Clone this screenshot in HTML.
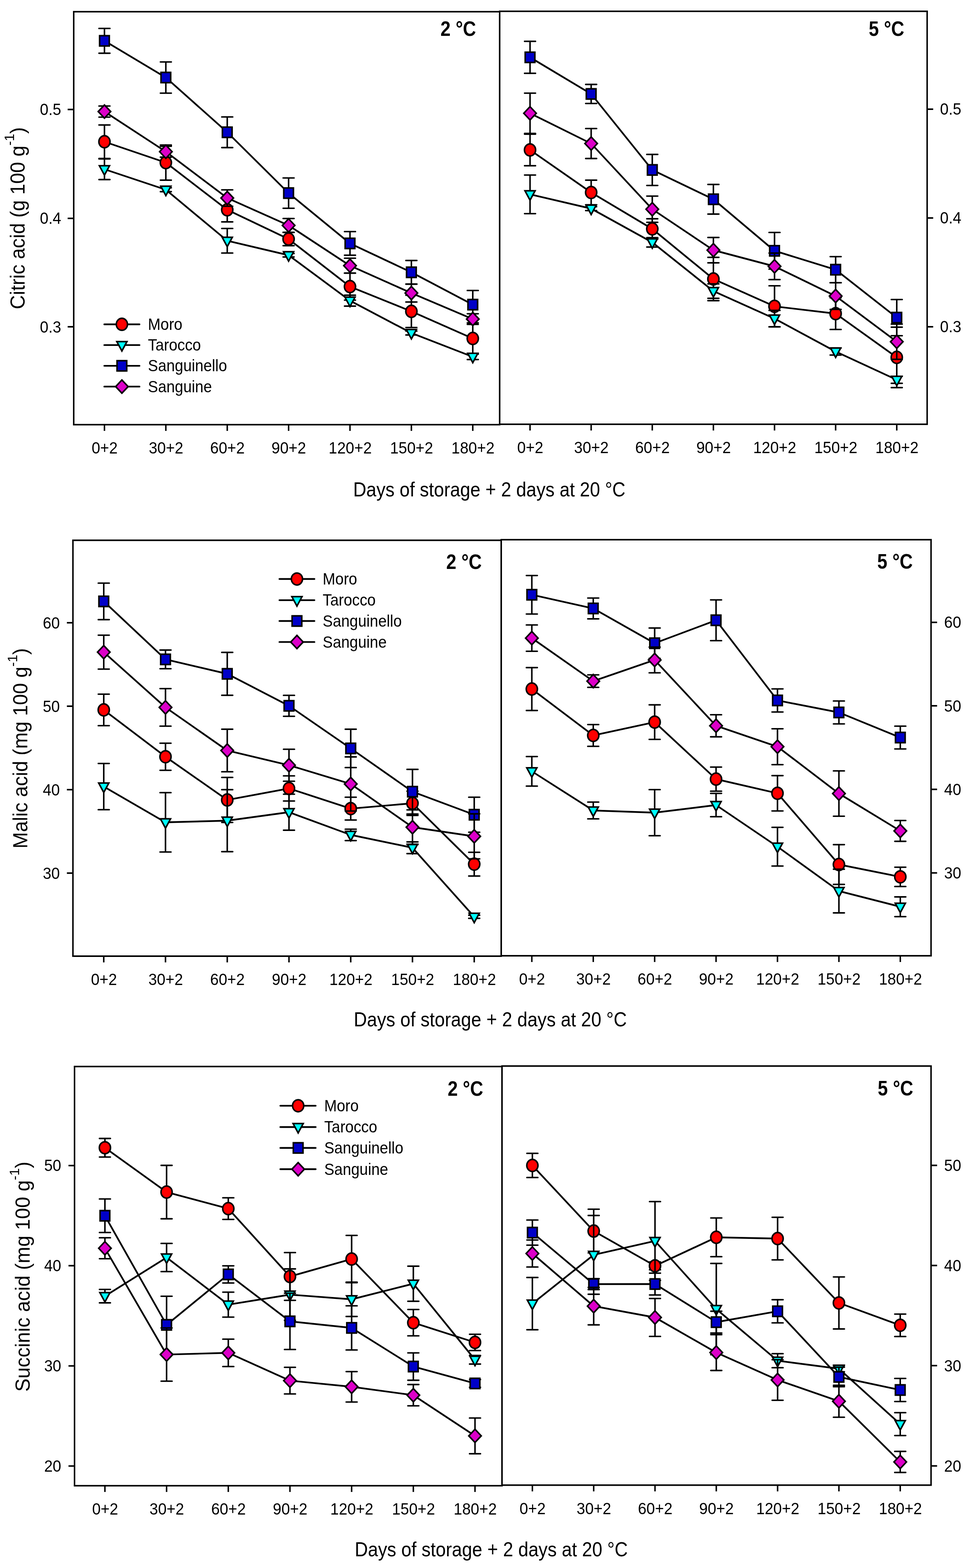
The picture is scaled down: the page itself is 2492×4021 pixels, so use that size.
<!DOCTYPE html>
<html><head><meta charset="utf-8"><title>Organic acids in blood oranges during storage</title>
<style>html,body{margin:0;padding:0;background:#fff;}svg{display:block;}</style>
</head><body>
<svg width="2492" height="4021" viewBox="0 0 2492 4021" style="font-family:&quot;Liberation Sans&quot;, Arial, sans-serif" fill="#000">
<rect width="2492" height="4021" fill="#fff"/>
<g stroke="#000" fill="none">
<path d="M189 30V1089M1281 30V1089" stroke-width="3.8"/>
<path d="M187.1 30H1282.9M187.1 1089H1282.9" stroke-width="4.0"/>
<path d="M267.8 1089V1105M425.2 1089V1105M582.6 1089V1105M739.9 1089V1105M897.3 1089V1105M1054.7 1089V1105M1212.1 1089V1105" stroke-width="3.8"/>
<path d="M189 280.8H173.5M189 559.9H173.5M189 838.1H173.5" stroke-width="4.0"/>
</g>
<g font-size="42.5">
<text transform="translate(268.3 1163) scale(0.915 1)" font-size="43" text-anchor="middle">0+2</text>
<text transform="translate(425.7 1163) scale(0.915 1)" font-size="43" text-anchor="middle">30+2</text>
<text transform="translate(583.1 1163) scale(0.915 1)" font-size="43" text-anchor="middle">60+2</text>
<text transform="translate(740.4 1163) scale(0.915 1)" font-size="43" text-anchor="middle">90+2</text>
<text transform="translate(897.8 1163) scale(0.915 1)" font-size="43" text-anchor="middle">120+2</text>
<text transform="translate(1055.2 1163) scale(0.915 1)" font-size="43" text-anchor="middle">150+2</text>
<text transform="translate(1212.6 1163) scale(0.915 1)" font-size="43" text-anchor="middle">180+2</text>
<text transform="translate(157 295.3) scale(0.915 1)" font-size="43" text-anchor="end">0.5</text>
<text transform="translate(157 574.4) scale(0.915 1)" font-size="43" text-anchor="end">0.4</text>
<text transform="translate(157 852.6) scale(0.915 1)" font-size="43" text-anchor="end">0.3</text>
</g>
<text transform="translate(1220.5 91.5) scale(0.871 1)" font-size="53.5" font-weight="bold" text-anchor="end">2 °C</text>
<path d="M267.8 363.5L425.2 417L582.6 538L739.9 613L897.3 735L1054.7 798.5L1212.1 868" fill="none" stroke="#000" stroke-width="4.4" stroke-linejoin="round"/>
<g stroke="#000" fill="none"><path d="M267.8 320.5V406.5" stroke-width="3.9"/><path d="M253.7 320.5H281.9M253.7 406.5H281.9" stroke-width="3.8" stroke-linecap="round"/><path d="M425.2 372V462" stroke-width="3.9"/><path d="M411.1 372H439.3M411.1 462H439.3" stroke-width="3.8" stroke-linecap="round"/><path d="M582.6 507V569" stroke-width="3.9"/><path d="M568.5 507H596.7M568.5 569H596.7" stroke-width="3.8" stroke-linecap="round"/><path d="M739.9 596V630" stroke-width="3.9"/><path d="M725.8 596H754M725.8 630H754" stroke-width="3.8" stroke-linecap="round"/><path d="M897.3 700.4V769.6" stroke-width="3.9"/><path d="M883.2 700.4H911.4M883.2 769.6H911.4" stroke-width="3.8" stroke-linecap="round"/><path d="M1054.7 757.2V839.8" stroke-width="3.9"/><path d="M1040.6 757.2H1068.8M1040.6 839.8H1068.8" stroke-width="3.8" stroke-linecap="round"/><path d="M1212.1 828V908" stroke-width="3.9"/><path d="M1198 828H1226.2M1198 908H1226.2" stroke-width="3.8" stroke-linecap="round"/></g>
<ellipse cx="267.8" cy="363.5" rx="14.3" ry="15.4" fill="#ff0000" stroke="#000" stroke-width="4.0"/><ellipse cx="425.2" cy="417" rx="14.3" ry="15.4" fill="#ff0000" stroke="#000" stroke-width="4.0"/><ellipse cx="582.6" cy="538" rx="14.3" ry="15.4" fill="#ff0000" stroke="#000" stroke-width="4.0"/><ellipse cx="739.9" cy="613" rx="14.3" ry="15.4" fill="#ff0000" stroke="#000" stroke-width="4.0"/><ellipse cx="897.3" cy="735" rx="14.3" ry="15.4" fill="#ff0000" stroke="#000" stroke-width="4.0"/><ellipse cx="1054.7" cy="798.5" rx="14.3" ry="15.4" fill="#ff0000" stroke="#000" stroke-width="4.0"/><ellipse cx="1212.1" cy="868" rx="14.3" ry="15.4" fill="#ff0000" stroke="#000" stroke-width="4.0"/>
<path d="M267.8 434L425.2 486.5L582.6 617.4L739.9 654.5L897.3 771L1054.7 854L1212.1 915" fill="none" stroke="#000" stroke-width="4.4" stroke-linejoin="round"/>
<g stroke="#000" fill="none"><path d="M267.8 407.5V460.5" stroke-width="3.9"/><path d="M253.7 407.5H281.9M253.7 460.5H281.9" stroke-width="3.8" stroke-linecap="round"/><path d="M425.2 481.5V491.5" stroke-width="3.9"/><path d="M411.1 481.5H439.3M411.1 491.5H439.3" stroke-width="3.8" stroke-linecap="round"/><path d="M582.6 585.9V648.9" stroke-width="3.9"/><path d="M568.5 585.9H596.7M568.5 648.9H596.7" stroke-width="3.8" stroke-linecap="round"/><path d="M739.9 650V659" stroke-width="3.9"/><path d="M725.8 650H754M725.8 659H754" stroke-width="3.8" stroke-linecap="round"/><path d="M897.3 757V785" stroke-width="3.9"/><path d="M883.2 757H911.4M883.2 785H911.4" stroke-width="3.8" stroke-linecap="round"/><path d="M1054.7 849V859" stroke-width="3.9"/><path d="M1040.6 849H1068.8M1040.6 859H1068.8" stroke-width="3.8" stroke-linecap="round"/><path d="M1212.1 908V922" stroke-width="3.9"/><path d="M1198 908H1226.2M1198 922H1226.2" stroke-width="3.8" stroke-linecap="round"/></g>
<polygon points="254.8,425 280.8,425 267.8,449.1" fill="#00ffff" stroke="#000" stroke-width="4.0" stroke-linejoin="miter" stroke-miterlimit="10"/><polygon points="412.2,477.5 438.2,477.5 425.2,501.6" fill="#00ffff" stroke="#000" stroke-width="4.0" stroke-linejoin="miter" stroke-miterlimit="10"/><polygon points="569.6,608.4 595.6,608.4 582.6,632.5" fill="#00ffff" stroke="#000" stroke-width="4.0" stroke-linejoin="miter" stroke-miterlimit="10"/><polygon points="726.9,645.5 752.9,645.5 739.9,669.6" fill="#00ffff" stroke="#000" stroke-width="4.0" stroke-linejoin="miter" stroke-miterlimit="10"/><polygon points="884.3,762 910.3,762 897.3,786.1" fill="#00ffff" stroke="#000" stroke-width="4.0" stroke-linejoin="miter" stroke-miterlimit="10"/><polygon points="1041.7,845 1067.7,845 1054.7,869.1" fill="#00ffff" stroke="#000" stroke-width="4.0" stroke-linejoin="miter" stroke-miterlimit="10"/><polygon points="1199.1,906 1225.1,906 1212.1,930.1" fill="#00ffff" stroke="#000" stroke-width="4.0" stroke-linejoin="miter" stroke-miterlimit="10"/>
<path d="M267.8 104.7L425.2 198.8L582.6 339.2L739.9 495.2L897.3 624.2L1054.7 698.3L1212.1 781.2" fill="none" stroke="#000" stroke-width="4.4" stroke-linejoin="round"/>
<g stroke="#000" fill="none"><path d="M267.8 72.9V136.5" stroke-width="3.9"/><path d="M253.7 72.9H281.9M253.7 136.5H281.9" stroke-width="3.8" stroke-linecap="round"/><path d="M425.2 158.8V238.8" stroke-width="3.9"/><path d="M411.1 158.8H439.3M411.1 238.8H439.3" stroke-width="3.8" stroke-linecap="round"/><path d="M582.6 299.9V378.5" stroke-width="3.9"/><path d="M568.5 299.9H596.7M568.5 378.5H596.7" stroke-width="3.8" stroke-linecap="round"/><path d="M739.9 456.3V534.1" stroke-width="3.9"/><path d="M725.8 456.3H754M725.8 534.1H754" stroke-width="3.8" stroke-linecap="round"/><path d="M897.3 593.9V654.5" stroke-width="3.9"/><path d="M883.2 593.9H911.4M883.2 654.5H911.4" stroke-width="3.8" stroke-linecap="round"/><path d="M1054.7 668V728.6" stroke-width="3.9"/><path d="M1040.6 668H1068.8M1040.6 728.6H1068.8" stroke-width="3.8" stroke-linecap="round"/><path d="M1212.1 744.9V817.5" stroke-width="3.9"/><path d="M1198 744.9H1226.2M1198 817.5H1226.2" stroke-width="3.8" stroke-linecap="round"/></g>
<rect x="255.4" y="91.5" width="24.8" height="26.4" fill="#0000c8" stroke="#000" stroke-width="4.0" stroke-linejoin="miter"/><rect x="412.8" y="185.6" width="24.8" height="26.4" fill="#0000c8" stroke="#000" stroke-width="4.0" stroke-linejoin="miter"/><rect x="570.2" y="326" width="24.8" height="26.4" fill="#0000c8" stroke="#000" stroke-width="4.0" stroke-linejoin="miter"/><rect x="727.5" y="482" width="24.8" height="26.4" fill="#0000c8" stroke="#000" stroke-width="4.0" stroke-linejoin="miter"/><rect x="884.9" y="611" width="24.8" height="26.4" fill="#0000c8" stroke="#000" stroke-width="4.0" stroke-linejoin="miter"/><rect x="1042.3" y="685.1" width="24.8" height="26.4" fill="#0000c8" stroke="#000" stroke-width="4.0" stroke-linejoin="miter"/><rect x="1199.7" y="768" width="24.8" height="26.4" fill="#0000c8" stroke="#000" stroke-width="4.0" stroke-linejoin="miter"/>
<path d="M267.8 286.1L425.2 389L582.6 507.8L739.9 578L897.3 681.3L1054.7 751.5L1212.1 818.2" fill="none" stroke="#000" stroke-width="4.4" stroke-linejoin="round"/>
<g stroke="#000" fill="none"><path d="M267.8 271.9V300.3" stroke-width="3.9"/><path d="M253.7 271.9H281.9M253.7 300.3H281.9" stroke-width="3.8" stroke-linecap="round"/><path d="M425.2 375V403" stroke-width="3.9"/><path d="M411.1 375H439.3M411.1 403H439.3" stroke-width="3.8" stroke-linecap="round"/><path d="M582.6 486.8V528.8" stroke-width="3.9"/><path d="M568.5 486.8H596.7M568.5 528.8H596.7" stroke-width="3.8" stroke-linecap="round"/><path d="M739.9 560.3V595.7" stroke-width="3.9"/><path d="M725.8 560.3H754M725.8 595.7H754" stroke-width="3.8" stroke-linecap="round"/><path d="M897.3 662.2V700.4" stroke-width="3.9"/><path d="M883.2 662.2H911.4M883.2 700.4H911.4" stroke-width="3.8" stroke-linecap="round"/><path d="M1054.7 728.5V774.5" stroke-width="3.9"/><path d="M1040.6 728.5H1068.8M1040.6 774.5H1068.8" stroke-width="3.8" stroke-linecap="round"/><path d="M1212.1 804.6V831.8" stroke-width="3.9"/><path d="M1198 804.6H1226.2M1198 831.8H1226.2" stroke-width="3.8" stroke-linecap="round"/></g>
<polygon points="267.8,269.1 283.8,286.1 267.8,303.1 251.8,286.1" fill="#dc00c8" stroke="#000" stroke-width="4.0" stroke-linejoin="miter"/><polygon points="425.2,372 441.2,389 425.2,406 409.2,389" fill="#dc00c8" stroke="#000" stroke-width="4.0" stroke-linejoin="miter"/><polygon points="582.6,490.8 598.6,507.8 582.6,524.8 566.6,507.8" fill="#dc00c8" stroke="#000" stroke-width="4.0" stroke-linejoin="miter"/><polygon points="739.9,561 755.9,578 739.9,595 723.9,578" fill="#dc00c8" stroke="#000" stroke-width="4.0" stroke-linejoin="miter"/><polygon points="897.3,664.3 913.3,681.3 897.3,698.3 881.3,681.3" fill="#dc00c8" stroke="#000" stroke-width="4.0" stroke-linejoin="miter"/><polygon points="1054.7,734.5 1070.7,751.5 1054.7,768.5 1038.7,751.5" fill="#dc00c8" stroke="#000" stroke-width="4.0" stroke-linejoin="miter"/><polygon points="1212.1,801.2 1228.1,818.2 1212.1,835.2 1196.1,818.2" fill="#dc00c8" stroke="#000" stroke-width="4.0" stroke-linejoin="miter"/>
<path d="M267.4 831.7H357.6" stroke="#000" stroke-width="4.4" stroke-linecap="round"/>
<ellipse cx="312.5" cy="831.7" rx="14.3" ry="15.4" fill="#ff0000" stroke="#000" stroke-width="4.0"/>
<text transform="translate(379.3 845.9) scale(0.896 1)" font-size="43.3" text-anchor="start">Moro</text>
<path d="M267.4 884.9H357.6" stroke="#000" stroke-width="4.4" stroke-linecap="round"/>
<polygon points="299.5,875.9 325.5,875.9 312.5,900" fill="#00ffff" stroke="#000" stroke-width="4.0" stroke-linejoin="miter" stroke-miterlimit="10"/>
<text transform="translate(379.3 899.1) scale(0.896 1)" font-size="43.3" text-anchor="start">Tarocco</text>
<path d="M267.4 938.1H357.6" stroke="#000" stroke-width="4.4" stroke-linecap="round"/>
<rect x="300.1" y="924.9" width="24.8" height="26.4" fill="#0000c8" stroke="#000" stroke-width="4.0" stroke-linejoin="miter"/>
<text transform="translate(379.3 952.3) scale(0.896 1)" font-size="43.3" text-anchor="start">Sanguinello</text>
<path d="M267.4 991.4H357.6" stroke="#000" stroke-width="4.4" stroke-linecap="round"/>
<polygon points="312.5,974.4 328.5,991.4 312.5,1008.4 296.5,991.4" fill="#dc00c8" stroke="#000" stroke-width="4.0" stroke-linejoin="miter"/>
<text transform="translate(379.3 1005.6) scale(0.896 1)" font-size="43.3" text-anchor="start">Sanguine</text>
<g stroke="#000" fill="none">
<path d="M1281 29V1088M2377 29V1088" stroke-width="3.8"/>
<path d="M1279.1 29H2378.9M1279.1 1088H2378.9" stroke-width="4.0"/>
<path d="M1358.9 1088V1104M1515.6 1088V1104M1672.3 1088V1104M1829 1088V1104M1985.7 1088V1104M2142.4 1088V1104M2299.1 1088V1104" stroke-width="3.8"/>
<path d="M2377 279.9H2392.5M2377 558.9H2392.5M2377 837.9H2392.5" stroke-width="4.0"/>
</g>
<g font-size="42.5">
<text transform="translate(1359.4 1162) scale(0.915 1)" font-size="43" text-anchor="middle">0+2</text>
<text transform="translate(1516.1 1162) scale(0.915 1)" font-size="43" text-anchor="middle">30+2</text>
<text transform="translate(1672.8 1162) scale(0.915 1)" font-size="43" text-anchor="middle">60+2</text>
<text transform="translate(1829.5 1162) scale(0.915 1)" font-size="43" text-anchor="middle">90+2</text>
<text transform="translate(1986.2 1162) scale(0.915 1)" font-size="43" text-anchor="middle">120+2</text>
<text transform="translate(2142.9 1162) scale(0.915 1)" font-size="43" text-anchor="middle">150+2</text>
<text transform="translate(2299.6 1162) scale(0.915 1)" font-size="43" text-anchor="middle">180+2</text>
<text transform="translate(2410 294.4) scale(0.915 1)" font-size="43" text-anchor="start">0.5</text>
<text transform="translate(2410 573.4) scale(0.915 1)" font-size="43" text-anchor="start">0.4</text>
<text transform="translate(2410 852.4) scale(0.915 1)" font-size="43" text-anchor="start">0.3</text>
</g>
<text transform="translate(2318.5 91.7) scale(0.871 1)" font-size="53.5" font-weight="bold" text-anchor="end">5 °C</text>
<path d="M1358.9 384.5L1515.6 493.6L1672.3 587L1829 715.5L1985.7 785.6L2142.4 804.3L2299.1 916.5" fill="none" stroke="#000" stroke-width="4.4" stroke-linejoin="round"/>
<g stroke="#000" fill="none"><path d="M1358.9 344V425" stroke-width="3.9"/><path d="M1344.8 344H1373M1344.8 425H1373" stroke-width="3.8" stroke-linecap="round"/><path d="M1515.6 462V525.2" stroke-width="3.9"/><path d="M1501.5 462H1529.7M1501.5 525.2H1529.7" stroke-width="3.8" stroke-linecap="round"/><path d="M1672.3 561V613" stroke-width="3.9"/><path d="M1658.2 561H1686.4M1658.2 613H1686.4" stroke-width="3.8" stroke-linecap="round"/><path d="M1829 660V771" stroke-width="3.9"/><path d="M1814.9 660H1843.1M1814.9 771H1843.1" stroke-width="3.8" stroke-linecap="round"/><path d="M1985.7 732.9V838.3" stroke-width="3.9"/><path d="M1971.6 732.9H1999.8M1971.6 838.3H1999.8" stroke-width="3.8" stroke-linecap="round"/><path d="M2142.4 763.7V844.9" stroke-width="3.9"/><path d="M2128.3 763.7H2156.5M2128.3 844.9H2156.5" stroke-width="3.8" stroke-linecap="round"/><path d="M2299.1 839V994" stroke-width="3.9"/><path d="M2285 839H2313.2M2285 994H2313.2" stroke-width="3.8" stroke-linecap="round"/></g>
<ellipse cx="1358.9" cy="384.5" rx="14.3" ry="15.4" fill="#ff0000" stroke="#000" stroke-width="4.0"/><ellipse cx="1515.6" cy="493.6" rx="14.3" ry="15.4" fill="#ff0000" stroke="#000" stroke-width="4.0"/><ellipse cx="1672.3" cy="587" rx="14.3" ry="15.4" fill="#ff0000" stroke="#000" stroke-width="4.0"/><ellipse cx="1829" cy="715.5" rx="14.3" ry="15.4" fill="#ff0000" stroke="#000" stroke-width="4.0"/><ellipse cx="1985.7" cy="785.6" rx="14.3" ry="15.4" fill="#ff0000" stroke="#000" stroke-width="4.0"/><ellipse cx="2142.4" cy="804.3" rx="14.3" ry="15.4" fill="#ff0000" stroke="#000" stroke-width="4.0"/><ellipse cx="2299.1" cy="916.5" rx="14.3" ry="15.4" fill="#ff0000" stroke="#000" stroke-width="4.0"/>
<path d="M1358.9 498.3L1515.6 535L1672.3 621.5L1829 746.5L1985.7 817L2142.4 901.5L2299.1 974" fill="none" stroke="#000" stroke-width="4.4" stroke-linejoin="round"/>
<g stroke="#000" fill="none"><path d="M1358.9 448.8V547.8" stroke-width="3.9"/><path d="M1344.8 448.8H1373M1344.8 547.8H1373" stroke-width="3.8" stroke-linecap="round"/><path d="M1515.6 530V540" stroke-width="3.9"/><path d="M1501.5 530H1529.7M1501.5 540H1529.7" stroke-width="3.8" stroke-linecap="round"/><path d="M1672.3 609.5V633.5" stroke-width="3.9"/><path d="M1658.2 609.5H1686.4M1658.2 633.5H1686.4" stroke-width="3.8" stroke-linecap="round"/><path d="M1829 728V765" stroke-width="3.9"/><path d="M1814.9 728H1843.1M1814.9 765H1843.1" stroke-width="3.8" stroke-linecap="round"/><path d="M1985.7 796V838" stroke-width="3.9"/><path d="M1971.6 796H1999.8M1971.6 838H1999.8" stroke-width="3.8" stroke-linecap="round"/><path d="M2142.4 892.5V910.5" stroke-width="3.9"/><path d="M2128.3 892.5H2156.5M2128.3 910.5H2156.5" stroke-width="3.8" stroke-linecap="round"/><path d="M2299.1 965V983" stroke-width="3.9"/><path d="M2285 965H2313.2M2285 983H2313.2" stroke-width="3.8" stroke-linecap="round"/></g>
<polygon points="1345.9,489.3 1371.9,489.3 1358.9,513.4" fill="#00ffff" stroke="#000" stroke-width="4.0" stroke-linejoin="miter" stroke-miterlimit="10"/><polygon points="1502.6,526 1528.6,526 1515.6,550.1" fill="#00ffff" stroke="#000" stroke-width="4.0" stroke-linejoin="miter" stroke-miterlimit="10"/><polygon points="1659.3,612.5 1685.3,612.5 1672.3,636.6" fill="#00ffff" stroke="#000" stroke-width="4.0" stroke-linejoin="miter" stroke-miterlimit="10"/><polygon points="1816,737.5 1842,737.5 1829,761.6" fill="#00ffff" stroke="#000" stroke-width="4.0" stroke-linejoin="miter" stroke-miterlimit="10"/><polygon points="1972.7,808 1998.7,808 1985.7,832.1" fill="#00ffff" stroke="#000" stroke-width="4.0" stroke-linejoin="miter" stroke-miterlimit="10"/><polygon points="2129.4,892.5 2155.4,892.5 2142.4,916.6" fill="#00ffff" stroke="#000" stroke-width="4.0" stroke-linejoin="miter" stroke-miterlimit="10"/><polygon points="2286.1,965 2312.1,965 2299.1,989.1" fill="#00ffff" stroke="#000" stroke-width="4.0" stroke-linejoin="miter" stroke-miterlimit="10"/>
<path d="M1358.9 147L1515.6 240.9L1672.3 435.8L1829 511L1985.7 643.2L2142.4 691.6L2299.1 814.5" fill="none" stroke="#000" stroke-width="4.4" stroke-linejoin="round"/>
<g stroke="#000" fill="none"><path d="M1358.9 106V188" stroke-width="3.9"/><path d="M1344.8 106H1373M1344.8 188H1373" stroke-width="3.8" stroke-linecap="round"/><path d="M1515.6 216.5V265.3" stroke-width="3.9"/><path d="M1501.5 216.5H1529.7M1501.5 265.3H1529.7" stroke-width="3.8" stroke-linecap="round"/><path d="M1672.3 396V475.6" stroke-width="3.9"/><path d="M1658.2 396H1686.4M1658.2 475.6H1686.4" stroke-width="3.8" stroke-linecap="round"/><path d="M1829 473V549" stroke-width="3.9"/><path d="M1814.9 473H1843.1M1814.9 549H1843.1" stroke-width="3.8" stroke-linecap="round"/><path d="M1985.7 596.2V690.2" stroke-width="3.9"/><path d="M1971.6 596.2H1999.8M1971.6 690.2H1999.8" stroke-width="3.8" stroke-linecap="round"/><path d="M2142.4 658.1V725.1" stroke-width="3.9"/><path d="M2128.3 658.1H2156.5M2128.3 725.1H2156.5" stroke-width="3.8" stroke-linecap="round"/><path d="M2299.1 768.1V860.9" stroke-width="3.9"/><path d="M2285 768.1H2313.2M2285 860.9H2313.2" stroke-width="3.8" stroke-linecap="round"/></g>
<rect x="1346.5" y="133.8" width="24.8" height="26.4" fill="#0000c8" stroke="#000" stroke-width="4.0" stroke-linejoin="miter"/><rect x="1503.2" y="227.7" width="24.8" height="26.4" fill="#0000c8" stroke="#000" stroke-width="4.0" stroke-linejoin="miter"/><rect x="1659.9" y="422.6" width="24.8" height="26.4" fill="#0000c8" stroke="#000" stroke-width="4.0" stroke-linejoin="miter"/><rect x="1816.6" y="497.8" width="24.8" height="26.4" fill="#0000c8" stroke="#000" stroke-width="4.0" stroke-linejoin="miter"/><rect x="1973.3" y="630" width="24.8" height="26.4" fill="#0000c8" stroke="#000" stroke-width="4.0" stroke-linejoin="miter"/><rect x="2130" y="678.4" width="24.8" height="26.4" fill="#0000c8" stroke="#000" stroke-width="4.0" stroke-linejoin="miter"/><rect x="2286.7" y="801.3" width="24.8" height="26.4" fill="#0000c8" stroke="#000" stroke-width="4.0" stroke-linejoin="miter"/>
<path d="M1358.9 290.5L1515.6 368.1L1672.3 536.5L1829 641.5L1985.7 683L2142.4 759.2L2299.1 876.3" fill="none" stroke="#000" stroke-width="4.4" stroke-linejoin="round"/>
<g stroke="#000" fill="none"><path d="M1358.9 238.8V342.2" stroke-width="3.9"/><path d="M1344.8 238.8H1373M1344.8 342.2H1373" stroke-width="3.8" stroke-linecap="round"/><path d="M1515.6 329.7V406.5" stroke-width="3.9"/><path d="M1501.5 329.7H1529.7M1501.5 406.5H1529.7" stroke-width="3.8" stroke-linecap="round"/><path d="M1672.3 502.8V570.2" stroke-width="3.9"/><path d="M1658.2 502.8H1686.4M1658.2 570.2H1686.4" stroke-width="3.8" stroke-linecap="round"/><path d="M1829 609V674" stroke-width="3.9"/><path d="M1814.9 609H1843.1M1814.9 674H1843.1" stroke-width="3.8" stroke-linecap="round"/><path d="M1985.7 649V717" stroke-width="3.9"/><path d="M1971.6 649H1999.8M1971.6 717H1999.8" stroke-width="3.8" stroke-linecap="round"/><path d="M2142.4 725V793.4" stroke-width="3.9"/><path d="M2128.3 725H2156.5M2128.3 793.4H2156.5" stroke-width="3.8" stroke-linecap="round"/><path d="M2299.1 831.1V921.5" stroke-width="3.9"/><path d="M2285 831.1H2313.2M2285 921.5H2313.2" stroke-width="3.8" stroke-linecap="round"/></g>
<polygon points="1358.9,273.5 1374.9,290.5 1358.9,307.5 1342.9,290.5" fill="#dc00c8" stroke="#000" stroke-width="4.0" stroke-linejoin="miter"/><polygon points="1515.6,351.1 1531.6,368.1 1515.6,385.1 1499.6,368.1" fill="#dc00c8" stroke="#000" stroke-width="4.0" stroke-linejoin="miter"/><polygon points="1672.3,519.5 1688.3,536.5 1672.3,553.5 1656.3,536.5" fill="#dc00c8" stroke="#000" stroke-width="4.0" stroke-linejoin="miter"/><polygon points="1829,624.5 1845,641.5 1829,658.5 1813,641.5" fill="#dc00c8" stroke="#000" stroke-width="4.0" stroke-linejoin="miter"/><polygon points="1985.7,666 2001.7,683 1985.7,700 1969.7,683" fill="#dc00c8" stroke="#000" stroke-width="4.0" stroke-linejoin="miter"/><polygon points="2142.4,742.2 2158.4,759.2 2142.4,776.2 2126.4,759.2" fill="#dc00c8" stroke="#000" stroke-width="4.0" stroke-linejoin="miter"/><polygon points="2299.1,859.3 2315.1,876.3 2299.1,893.3 2283.1,876.3" fill="#dc00c8" stroke="#000" stroke-width="4.0" stroke-linejoin="miter"/>
<g stroke="#000" fill="none">
<path d="M187 1385.5V2452M1285 1385.5V2452" stroke-width="3.8"/>
<path d="M185.1 1385.5H1286.9M185.1 2452H1286.9" stroke-width="4.0"/>
<path d="M266 2452V2468M424.3 2452V2468M582.6 2452V2468M740.9 2452V2468M899.2 2452V2468M1057.5 2452V2468M1215.8 2452V2468" stroke-width="3.8"/>
<path d="M187 1597H171.5M187 1811H171.5M187 2025H171.5M187 2239H171.5" stroke-width="4.0"/>
</g>
<g font-size="42.5">
<text transform="translate(266.5 2526) scale(0.915 1)" font-size="43" text-anchor="middle">0+2</text>
<text transform="translate(424.8 2526) scale(0.915 1)" font-size="43" text-anchor="middle">30+2</text>
<text transform="translate(583.1 2526) scale(0.915 1)" font-size="43" text-anchor="middle">60+2</text>
<text transform="translate(741.4 2526) scale(0.915 1)" font-size="43" text-anchor="middle">90+2</text>
<text transform="translate(899.7 2526) scale(0.915 1)" font-size="43" text-anchor="middle">120+2</text>
<text transform="translate(1058 2526) scale(0.915 1)" font-size="43" text-anchor="middle">150+2</text>
<text transform="translate(1216.3 2526) scale(0.915 1)" font-size="43" text-anchor="middle">180+2</text>
<text transform="translate(153.4 1611.5) scale(0.915 1)" font-size="43" text-anchor="end">60</text>
<text transform="translate(153.4 1825.5) scale(0.915 1)" font-size="43" text-anchor="end">50</text>
<text transform="translate(153.4 2039.5) scale(0.915 1)" font-size="43" text-anchor="end">40</text>
<text transform="translate(153.4 2253.5) scale(0.915 1)" font-size="43" text-anchor="end">30</text>
</g>
<text transform="translate(1235.2 1459.3) scale(0.871 1)" font-size="53.5" font-weight="bold" text-anchor="end">2 °C</text>
<path d="M266 1820.5L424.3 1940.6L582.6 2051.4L740.9 2021.9L899.2 2073.6L1057.5 2060L1215.8 2216.1" fill="none" stroke="#000" stroke-width="4.4" stroke-linejoin="round"/>
<g stroke="#000" fill="none"><path d="M266 1780.1V1860.9" stroke-width="3.9"/><path d="M251.9 1780.1H280.1M251.9 1860.9H280.1" stroke-width="3.8" stroke-linecap="round"/><path d="M424.3 1905.9V1975.3" stroke-width="3.9"/><path d="M410.2 1905.9H438.4M410.2 1975.3H438.4" stroke-width="3.8" stroke-linecap="round"/><path d="M582.6 1993.7V2109.1" stroke-width="3.9"/><path d="M568.5 1993.7H596.7M568.5 2109.1H596.7" stroke-width="3.8" stroke-linecap="round"/><path d="M740.9 1989.7V2054.1" stroke-width="3.9"/><path d="M726.8 1989.7H755M726.8 2054.1H755" stroke-width="3.8" stroke-linecap="round"/><path d="M899.2 2044.4V2102.8" stroke-width="3.9"/><path d="M885.1 2044.4H913.3M885.1 2102.8H913.3" stroke-width="3.8" stroke-linecap="round"/><path d="M1057.5 2029V2091" stroke-width="3.9"/><path d="M1043.4 2029H1071.6M1043.4 2091H1071.6" stroke-width="3.8" stroke-linecap="round"/><path d="M1215.8 2185.7V2246.5" stroke-width="3.9"/><path d="M1201.7 2185.7H1229.9M1201.7 2246.5H1229.9" stroke-width="3.8" stroke-linecap="round"/></g>
<ellipse cx="266" cy="1820.5" rx="14.3" ry="15.4" fill="#ff0000" stroke="#000" stroke-width="4.0"/><ellipse cx="424.3" cy="1940.6" rx="14.3" ry="15.4" fill="#ff0000" stroke="#000" stroke-width="4.0"/><ellipse cx="582.6" cy="2051.4" rx="14.3" ry="15.4" fill="#ff0000" stroke="#000" stroke-width="4.0"/><ellipse cx="740.9" cy="2021.9" rx="14.3" ry="15.4" fill="#ff0000" stroke="#000" stroke-width="4.0"/><ellipse cx="899.2" cy="2073.6" rx="14.3" ry="15.4" fill="#ff0000" stroke="#000" stroke-width="4.0"/><ellipse cx="1057.5" cy="2060" rx="14.3" ry="15.4" fill="#ff0000" stroke="#000" stroke-width="4.0"/><ellipse cx="1215.8" cy="2216.1" rx="14.3" ry="15.4" fill="#ff0000" stroke="#000" stroke-width="4.0"/>
<path d="M266 2017.1L424.3 2108.8L582.6 2104.5L740.9 2082.8L899.2 2141L1057.5 2174L1215.8 2351" fill="none" stroke="#000" stroke-width="4.4" stroke-linejoin="round"/>
<g stroke="#000" fill="none"><path d="M266 1957.8V2076.4" stroke-width="3.9"/><path d="M251.9 1957.8H280.1M251.9 2076.4H280.1" stroke-width="3.8" stroke-linecap="round"/><path d="M424.3 2032.7V2184.9" stroke-width="3.9"/><path d="M410.2 2032.7H438.4M410.2 2184.9H438.4" stroke-width="3.8" stroke-linecap="round"/><path d="M582.6 2025V2184" stroke-width="3.9"/><path d="M568.5 2025H596.7M568.5 2184H596.7" stroke-width="3.8" stroke-linecap="round"/><path d="M740.9 2036.6V2129" stroke-width="3.9"/><path d="M726.8 2036.6H755M726.8 2129H755" stroke-width="3.8" stroke-linecap="round"/><path d="M899.2 2126.4V2155.6" stroke-width="3.9"/><path d="M885.1 2126.4H913.3M885.1 2155.6H913.3" stroke-width="3.8" stroke-linecap="round"/><path d="M1057.5 2159V2189" stroke-width="3.9"/><path d="M1043.4 2159H1071.6M1043.4 2189H1071.6" stroke-width="3.8" stroke-linecap="round"/><path d="M1215.8 2347V2355" stroke-width="3.9"/><path d="M1201.7 2347H1229.9M1201.7 2355H1229.9" stroke-width="3.8" stroke-linecap="round"/></g>
<polygon points="253,2008.1 279,2008.1 266,2032.2" fill="#00ffff" stroke="#000" stroke-width="4.0" stroke-linejoin="miter" stroke-miterlimit="10"/><polygon points="411.3,2099.8 437.3,2099.8 424.3,2123.9" fill="#00ffff" stroke="#000" stroke-width="4.0" stroke-linejoin="miter" stroke-miterlimit="10"/><polygon points="569.6,2095.5 595.6,2095.5 582.6,2119.6" fill="#00ffff" stroke="#000" stroke-width="4.0" stroke-linejoin="miter" stroke-miterlimit="10"/><polygon points="727.9,2073.8 753.9,2073.8 740.9,2097.9" fill="#00ffff" stroke="#000" stroke-width="4.0" stroke-linejoin="miter" stroke-miterlimit="10"/><polygon points="886.2,2132 912.2,2132 899.2,2156.1" fill="#00ffff" stroke="#000" stroke-width="4.0" stroke-linejoin="miter" stroke-miterlimit="10"/><polygon points="1044.5,2165 1070.5,2165 1057.5,2189.1" fill="#00ffff" stroke="#000" stroke-width="4.0" stroke-linejoin="miter" stroke-miterlimit="10"/><polygon points="1202.8,2342 1228.8,2342 1215.8,2366.1" fill="#00ffff" stroke="#000" stroke-width="4.0" stroke-linejoin="miter" stroke-miterlimit="10"/>
<path d="M266 1542.2L424.3 1690.9L582.6 1728L740.9 1810L899.2 1919.2L1057.5 2030.2L1215.8 2089.3" fill="none" stroke="#000" stroke-width="4.4" stroke-linejoin="round"/>
<g stroke="#000" fill="none"><path d="M266 1495.4V1589" stroke-width="3.9"/><path d="M251.9 1495.4H280.1M251.9 1589H280.1" stroke-width="3.8" stroke-linecap="round"/><path d="M424.3 1667V1714.8" stroke-width="3.9"/><path d="M410.2 1667H438.4M410.2 1714.8H438.4" stroke-width="3.8" stroke-linecap="round"/><path d="M582.6 1673V1783" stroke-width="3.9"/><path d="M568.5 1673H596.7M568.5 1783H596.7" stroke-width="3.8" stroke-linecap="round"/><path d="M740.9 1783.2V1836.8" stroke-width="3.9"/><path d="M726.8 1783.2H755M726.8 1836.8H755" stroke-width="3.8" stroke-linecap="round"/><path d="M899.2 1870V1968.4" stroke-width="3.9"/><path d="M885.1 1870H913.3M885.1 1968.4H913.3" stroke-width="3.8" stroke-linecap="round"/><path d="M1057.5 1973V2087.4" stroke-width="3.9"/><path d="M1043.4 1973H1071.6M1043.4 2087.4H1071.6" stroke-width="3.8" stroke-linecap="round"/><path d="M1215.8 2044.4V2134.2" stroke-width="3.9"/><path d="M1201.7 2044.4H1229.9M1201.7 2134.2H1229.9" stroke-width="3.8" stroke-linecap="round"/></g>
<rect x="253.6" y="1529" width="24.8" height="26.4" fill="#0000c8" stroke="#000" stroke-width="4.0" stroke-linejoin="miter"/><rect x="411.9" y="1677.7" width="24.8" height="26.4" fill="#0000c8" stroke="#000" stroke-width="4.0" stroke-linejoin="miter"/><rect x="570.2" y="1714.8" width="24.8" height="26.4" fill="#0000c8" stroke="#000" stroke-width="4.0" stroke-linejoin="miter"/><rect x="728.5" y="1796.8" width="24.8" height="26.4" fill="#0000c8" stroke="#000" stroke-width="4.0" stroke-linejoin="miter"/><rect x="886.8" y="1906" width="24.8" height="26.4" fill="#0000c8" stroke="#000" stroke-width="4.0" stroke-linejoin="miter"/><rect x="1045.1" y="2017" width="24.8" height="26.4" fill="#0000c8" stroke="#000" stroke-width="4.0" stroke-linejoin="miter"/><rect x="1203.4" y="2076.1" width="24.8" height="26.4" fill="#0000c8" stroke="#000" stroke-width="4.0" stroke-linejoin="miter"/>
<path d="M266 1672.3L424.3 1814L582.6 1924.6L740.9 1962.4L899.2 2010.4L1057.5 2121.3L1215.8 2144.7" fill="none" stroke="#000" stroke-width="4.4" stroke-linejoin="round"/>
<g stroke="#000" fill="none"><path d="M266 1628.8V1715.8" stroke-width="3.9"/><path d="M251.9 1628.8H280.1M251.9 1715.8H280.1" stroke-width="3.8" stroke-linecap="round"/><path d="M424.3 1765.8V1862.2" stroke-width="3.9"/><path d="M410.2 1765.8H438.4M410.2 1862.2H438.4" stroke-width="3.8" stroke-linecap="round"/><path d="M582.6 1870V1979.2" stroke-width="3.9"/><path d="M568.5 1870H596.7M568.5 1979.2H596.7" stroke-width="3.8" stroke-linecap="round"/><path d="M740.9 1921.4V2003.4" stroke-width="3.9"/><path d="M726.8 1921.4H755M726.8 2003.4H755" stroke-width="3.8" stroke-linecap="round"/><path d="M899.2 1941V2079.8" stroke-width="3.9"/><path d="M885.1 1941H913.3M885.1 2079.8H913.3" stroke-width="3.8" stroke-linecap="round"/><path d="M1057.5 2076.8V2165.8" stroke-width="3.9"/><path d="M1043.4 2076.8H1071.6M1043.4 2165.8H1071.6" stroke-width="3.8" stroke-linecap="round"/><path d="M1215.8 2087V2202.4" stroke-width="3.9"/><path d="M1201.7 2087H1229.9M1201.7 2202.4H1229.9" stroke-width="3.8" stroke-linecap="round"/></g>
<polygon points="266,1655.3 282,1672.3 266,1689.3 250,1672.3" fill="#dc00c8" stroke="#000" stroke-width="4.0" stroke-linejoin="miter"/><polygon points="424.3,1797 440.3,1814 424.3,1831 408.3,1814" fill="#dc00c8" stroke="#000" stroke-width="4.0" stroke-linejoin="miter"/><polygon points="582.6,1907.6 598.6,1924.6 582.6,1941.6 566.6,1924.6" fill="#dc00c8" stroke="#000" stroke-width="4.0" stroke-linejoin="miter"/><polygon points="740.9,1945.4 756.9,1962.4 740.9,1979.4 724.9,1962.4" fill="#dc00c8" stroke="#000" stroke-width="4.0" stroke-linejoin="miter"/><polygon points="899.2,1993.4 915.2,2010.4 899.2,2027.4 883.2,2010.4" fill="#dc00c8" stroke="#000" stroke-width="4.0" stroke-linejoin="miter"/><polygon points="1057.5,2104.3 1073.5,2121.3 1057.5,2138.3 1041.5,2121.3" fill="#dc00c8" stroke="#000" stroke-width="4.0" stroke-linejoin="miter"/><polygon points="1215.8,2127.7 1231.8,2144.7 1215.8,2161.7 1199.8,2144.7" fill="#dc00c8" stroke="#000" stroke-width="4.0" stroke-linejoin="miter"/>
<path d="M716.4 1484.8H806.1" stroke="#000" stroke-width="4.4" stroke-linecap="round"/>
<ellipse cx="761.3" cy="1484.8" rx="14.3" ry="15.4" fill="#ff0000" stroke="#000" stroke-width="4.0"/>
<text transform="translate(827.3 1499) scale(0.896 1)" font-size="43.3" text-anchor="start">Moro</text>
<path d="M716.4 1539.1H806.1" stroke="#000" stroke-width="4.4" stroke-linecap="round"/>
<polygon points="748.3,1530.1 774.3,1530.1 761.3,1554.2" fill="#00ffff" stroke="#000" stroke-width="4.0" stroke-linejoin="miter" stroke-miterlimit="10"/>
<text transform="translate(827.3 1553.3) scale(0.896 1)" font-size="43.3" text-anchor="start">Tarocco</text>
<path d="M716.4 1592.5H806.1" stroke="#000" stroke-width="4.4" stroke-linecap="round"/>
<rect x="748.9" y="1579.3" width="24.8" height="26.4" fill="#0000c8" stroke="#000" stroke-width="4.0" stroke-linejoin="miter"/>
<text transform="translate(827.3 1606.7) scale(0.896 1)" font-size="43.3" text-anchor="start">Sanguinello</text>
<path d="M716.4 1646.4H806.1" stroke="#000" stroke-width="4.4" stroke-linecap="round"/>
<polygon points="761.3,1629.4 777.3,1646.4 761.3,1663.4 745.3,1646.4" fill="#dc00c8" stroke="#000" stroke-width="4.0" stroke-linejoin="miter"/>
<text transform="translate(827.3 1660.6) scale(0.896 1)" font-size="43.3" text-anchor="start">Sanguine</text>
<g stroke="#000" fill="none">
<path d="M1285 1384V2451M2387 1384V2451" stroke-width="3.8"/>
<path d="M1283.1 1384H2388.9M1283.1 2451H2388.9" stroke-width="4.0"/>
<path d="M1363.5 2451V2467M1521 2451V2467M1678.4 2451V2467M1835.8 2451V2467M1993.3 2451V2467M2150.8 2451V2467M2308.2 2451V2467" stroke-width="3.8"/>
<path d="M2387 1595.9H2402.5M2387 1810.1H2402.5M2387 2024.3H2402.5M2387 2238.5H2402.5" stroke-width="4.0"/>
</g>
<g font-size="42.5">
<text transform="translate(1364 2525) scale(0.915 1)" font-size="43" text-anchor="middle">0+2</text>
<text transform="translate(1521.5 2525) scale(0.915 1)" font-size="43" text-anchor="middle">30+2</text>
<text transform="translate(1678.9 2525) scale(0.915 1)" font-size="43" text-anchor="middle">60+2</text>
<text transform="translate(1836.3 2525) scale(0.915 1)" font-size="43" text-anchor="middle">90+2</text>
<text transform="translate(1993.8 2525) scale(0.915 1)" font-size="43" text-anchor="middle">120+2</text>
<text transform="translate(2151.2 2525) scale(0.915 1)" font-size="43" text-anchor="middle">150+2</text>
<text transform="translate(2308.7 2525) scale(0.915 1)" font-size="43" text-anchor="middle">180+2</text>
<text transform="translate(2420.5 1610.4) scale(0.915 1)" font-size="43" text-anchor="start">60</text>
<text transform="translate(2420.5 1824.6) scale(0.915 1)" font-size="43" text-anchor="start">50</text>
<text transform="translate(2420.5 2038.8) scale(0.915 1)" font-size="43" text-anchor="start">40</text>
<text transform="translate(2420.5 2253) scale(0.915 1)" font-size="43" text-anchor="start">30</text>
</g>
<text transform="translate(2340.2 1458) scale(0.871 1)" font-size="53.5" font-weight="bold" text-anchor="end">5 °C</text>
<path d="M1363.5 1767L1521 1886L1678.4 1851.8L1835.8 1998L1993.3 2034.3L2150.8 2217L2308.2 2248.6" fill="none" stroke="#000" stroke-width="4.4" stroke-linejoin="round"/>
<g stroke="#000" fill="none"><path d="M1363.5 1712V1822" stroke-width="3.9"/><path d="M1349.4 1712H1377.6M1349.4 1822H1377.6" stroke-width="3.8" stroke-linecap="round"/><path d="M1521 1858.1V1913.9" stroke-width="3.9"/><path d="M1506.9 1858.1H1535M1506.9 1913.9H1535" stroke-width="3.8" stroke-linecap="round"/><path d="M1678.4 1807.5V1896.1" stroke-width="3.9"/><path d="M1664.3 1807.5H1692.5M1664.3 1896.1H1692.5" stroke-width="3.8" stroke-linecap="round"/><path d="M1835.8 1967.1V2028.9" stroke-width="3.9"/><path d="M1821.8 1967.1H1849.9M1821.8 2028.9H1849.9" stroke-width="3.8" stroke-linecap="round"/><path d="M1993.3 1989V2079.6" stroke-width="3.9"/><path d="M1979.2 1989H2007.4M1979.2 2079.6H2007.4" stroke-width="3.8" stroke-linecap="round"/><path d="M2150.8 2166V2268" stroke-width="3.9"/><path d="M2136.7 2166H2164.8M2136.7 2268H2164.8" stroke-width="3.8" stroke-linecap="round"/><path d="M2308.2 2223.8V2273.4" stroke-width="3.9"/><path d="M2294.1 2223.8H2322.3M2294.1 2273.4H2322.3" stroke-width="3.8" stroke-linecap="round"/></g>
<ellipse cx="1363.5" cy="1767" rx="14.3" ry="15.4" fill="#ff0000" stroke="#000" stroke-width="4.0"/><ellipse cx="1521" cy="1886" rx="14.3" ry="15.4" fill="#ff0000" stroke="#000" stroke-width="4.0"/><ellipse cx="1678.4" cy="1851.8" rx="14.3" ry="15.4" fill="#ff0000" stroke="#000" stroke-width="4.0"/><ellipse cx="1835.8" cy="1998" rx="14.3" ry="15.4" fill="#ff0000" stroke="#000" stroke-width="4.0"/><ellipse cx="1993.3" cy="2034.3" rx="14.3" ry="15.4" fill="#ff0000" stroke="#000" stroke-width="4.0"/><ellipse cx="2150.8" cy="2217" rx="14.3" ry="15.4" fill="#ff0000" stroke="#000" stroke-width="4.0"/><ellipse cx="2308.2" cy="2248.6" rx="14.3" ry="15.4" fill="#ff0000" stroke="#000" stroke-width="4.0"/>
<path d="M1363.5 1978L1521 2078.4L1678.4 2084L1835.8 2064.5L1993.3 2171.2L2150.8 2285L2308.2 2325.3" fill="none" stroke="#000" stroke-width="4.4" stroke-linejoin="round"/>
<g stroke="#000" fill="none"><path d="M1363.5 1940.1V2015.9" stroke-width="3.9"/><path d="M1349.4 1940.1H1377.6M1349.4 2015.9H1377.6" stroke-width="3.8" stroke-linecap="round"/><path d="M1521 2056.9V2099.9" stroke-width="3.9"/><path d="M1506.9 2056.9H1535M1506.9 2099.9H1535" stroke-width="3.8" stroke-linecap="round"/><path d="M1678.4 2024.9V2143.1" stroke-width="3.9"/><path d="M1664.3 2024.9H1692.5M1664.3 2143.1H1692.5" stroke-width="3.8" stroke-linecap="round"/><path d="M1835.8 2034.6V2094.4" stroke-width="3.9"/><path d="M1821.8 2034.6H1849.9M1821.8 2094.4H1849.9" stroke-width="3.8" stroke-linecap="round"/><path d="M1993.3 2121.6V2220.8" stroke-width="3.9"/><path d="M1979.2 2121.6H2007.4M1979.2 2220.8H2007.4" stroke-width="3.8" stroke-linecap="round"/><path d="M2150.8 2229V2341" stroke-width="3.9"/><path d="M2136.7 2229H2164.8M2136.7 2341H2164.8" stroke-width="3.8" stroke-linecap="round"/><path d="M2308.2 2300V2350.6" stroke-width="3.9"/><path d="M2294.1 2300H2322.3M2294.1 2350.6H2322.3" stroke-width="3.8" stroke-linecap="round"/></g>
<polygon points="1350.5,1969 1376.5,1969 1363.5,1993.1" fill="#00ffff" stroke="#000" stroke-width="4.0" stroke-linejoin="miter" stroke-miterlimit="10"/><polygon points="1508,2069.4 1534,2069.4 1521,2093.5" fill="#00ffff" stroke="#000" stroke-width="4.0" stroke-linejoin="miter" stroke-miterlimit="10"/><polygon points="1665.4,2075 1691.4,2075 1678.4,2099.1" fill="#00ffff" stroke="#000" stroke-width="4.0" stroke-linejoin="miter" stroke-miterlimit="10"/><polygon points="1822.8,2055.5 1848.8,2055.5 1835.8,2079.6" fill="#00ffff" stroke="#000" stroke-width="4.0" stroke-linejoin="miter" stroke-miterlimit="10"/><polygon points="1980.3,2162.2 2006.3,2162.2 1993.3,2186.3" fill="#00ffff" stroke="#000" stroke-width="4.0" stroke-linejoin="miter" stroke-miterlimit="10"/><polygon points="2137.8,2276 2163.8,2276 2150.8,2300.1" fill="#00ffff" stroke="#000" stroke-width="4.0" stroke-linejoin="miter" stroke-miterlimit="10"/><polygon points="2295.2,2316.3 2321.2,2316.3 2308.2,2340.4" fill="#00ffff" stroke="#000" stroke-width="4.0" stroke-linejoin="miter" stroke-miterlimit="10"/>
<path d="M1363.5 1525.2L1521 1560.3L1678.4 1649.5L1835.8 1590.6L1993.3 1796.2L2150.8 1827L2308.2 1891.4" fill="none" stroke="#000" stroke-width="4.4" stroke-linejoin="round"/>
<g stroke="#000" fill="none"><path d="M1363.5 1475.8V1574.6" stroke-width="3.9"/><path d="M1349.4 1475.8H1377.6M1349.4 1574.6H1377.6" stroke-width="3.8" stroke-linecap="round"/><path d="M1521 1533.6V1587" stroke-width="3.9"/><path d="M1506.9 1533.6H1535M1506.9 1587H1535" stroke-width="3.8" stroke-linecap="round"/><path d="M1678.4 1610.5V1688.5" stroke-width="3.9"/><path d="M1664.3 1610.5H1692.5M1664.3 1688.5H1692.5" stroke-width="3.8" stroke-linecap="round"/><path d="M1835.8 1538.3V1642.9" stroke-width="3.9"/><path d="M1821.8 1538.3H1849.9M1821.8 1642.9H1849.9" stroke-width="3.8" stroke-linecap="round"/><path d="M1993.3 1766.6V1825.8" stroke-width="3.9"/><path d="M1979.2 1766.6H2007.4M1979.2 1825.8H2007.4" stroke-width="3.8" stroke-linecap="round"/><path d="M2150.8 1797.7V1856.3" stroke-width="3.9"/><path d="M2136.7 1797.7H2164.8M2136.7 1856.3H2164.8" stroke-width="3.8" stroke-linecap="round"/><path d="M2308.2 1862.2V1920.6" stroke-width="3.9"/><path d="M2294.1 1862.2H2322.3M2294.1 1920.6H2322.3" stroke-width="3.8" stroke-linecap="round"/></g>
<rect x="1351.1" y="1512" width="24.8" height="26.4" fill="#0000c8" stroke="#000" stroke-width="4.0" stroke-linejoin="miter"/><rect x="1508.5" y="1547.1" width="24.8" height="26.4" fill="#0000c8" stroke="#000" stroke-width="4.0" stroke-linejoin="miter"/><rect x="1666" y="1636.3" width="24.8" height="26.4" fill="#0000c8" stroke="#000" stroke-width="4.0" stroke-linejoin="miter"/><rect x="1823.4" y="1577.4" width="24.8" height="26.4" fill="#0000c8" stroke="#000" stroke-width="4.0" stroke-linejoin="miter"/><rect x="1980.9" y="1783" width="24.8" height="26.4" fill="#0000c8" stroke="#000" stroke-width="4.0" stroke-linejoin="miter"/><rect x="2138.3" y="1813.8" width="24.8" height="26.4" fill="#0000c8" stroke="#000" stroke-width="4.0" stroke-linejoin="miter"/><rect x="2295.8" y="1878.2" width="24.8" height="26.4" fill="#0000c8" stroke="#000" stroke-width="4.0" stroke-linejoin="miter"/>
<path d="M1363.5 1636.4L1521 1746.7L1678.4 1692.4L1835.8 1861.2L1993.3 1914.8L2150.8 2035L2308.2 2130.8" fill="none" stroke="#000" stroke-width="4.4" stroke-linejoin="round"/>
<g stroke="#000" fill="none"><path d="M1363.5 1602.7V1670.1" stroke-width="3.9"/><path d="M1349.4 1602.7H1377.6M1349.4 1670.1H1377.6" stroke-width="3.8" stroke-linecap="round"/><path d="M1521 1730.7V1762.7" stroke-width="3.9"/><path d="M1506.9 1730.7H1535M1506.9 1762.7H1535" stroke-width="3.8" stroke-linecap="round"/><path d="M1678.4 1659.4V1725.4" stroke-width="3.9"/><path d="M1664.3 1659.4H1692.5M1664.3 1725.4H1692.5" stroke-width="3.8" stroke-linecap="round"/><path d="M1835.8 1832.9V1889.5" stroke-width="3.9"/><path d="M1821.8 1832.9H1849.9M1821.8 1889.5H1849.9" stroke-width="3.8" stroke-linecap="round"/><path d="M1993.3 1868.8V1960.8" stroke-width="3.9"/><path d="M1979.2 1868.8H2007.4M1979.2 1960.8H2007.4" stroke-width="3.8" stroke-linecap="round"/><path d="M2150.8 1976.9V2093.1" stroke-width="3.9"/><path d="M2136.7 1976.9H2164.8M2136.7 2093.1H2164.8" stroke-width="3.8" stroke-linecap="round"/><path d="M2308.2 2104.1V2157.5" stroke-width="3.9"/><path d="M2294.1 2104.1H2322.3M2294.1 2157.5H2322.3" stroke-width="3.8" stroke-linecap="round"/></g>
<polygon points="1363.5,1619.4 1379.5,1636.4 1363.5,1653.4 1347.5,1636.4" fill="#dc00c8" stroke="#000" stroke-width="4.0" stroke-linejoin="miter"/><polygon points="1521,1729.7 1537,1746.7 1521,1763.7 1505,1746.7" fill="#dc00c8" stroke="#000" stroke-width="4.0" stroke-linejoin="miter"/><polygon points="1678.4,1675.4 1694.4,1692.4 1678.4,1709.4 1662.4,1692.4" fill="#dc00c8" stroke="#000" stroke-width="4.0" stroke-linejoin="miter"/><polygon points="1835.8,1844.2 1851.8,1861.2 1835.8,1878.2 1819.8,1861.2" fill="#dc00c8" stroke="#000" stroke-width="4.0" stroke-linejoin="miter"/><polygon points="1993.3,1897.8 2009.3,1914.8 1993.3,1931.8 1977.3,1914.8" fill="#dc00c8" stroke="#000" stroke-width="4.0" stroke-linejoin="miter"/><polygon points="2150.8,2018 2166.8,2035 2150.8,2052 2134.8,2035" fill="#dc00c8" stroke="#000" stroke-width="4.0" stroke-linejoin="miter"/><polygon points="2308.2,2113.8 2324.2,2130.8 2308.2,2147.8 2292.2,2130.8" fill="#dc00c8" stroke="#000" stroke-width="4.0" stroke-linejoin="miter"/>
<g stroke="#000" fill="none">
<path d="M191.1 2735.1V3810M1287 2735.1V3810" stroke-width="3.8"/>
<path d="M189.2 2735.1H1288.9M189.2 3810H1288.9" stroke-width="4.0"/>
<path d="M269 3810V3826M427.1 3810V3826M585.3 3810V3826M743.4 3810V3826M901.5 3810V3826M1059.7 3810V3826M1217.8 3810V3826" stroke-width="3.8"/>
<path d="M191.1 2988.9H175.6M191.1 3245.8H175.6M191.1 3502.7H175.6M191.1 3759.6H175.6" stroke-width="4.0"/>
</g>
<g font-size="42.5">
<text transform="translate(269.5 3884) scale(0.915 1)" font-size="43" text-anchor="middle">0+2</text>
<text transform="translate(427.6 3884) scale(0.915 1)" font-size="43" text-anchor="middle">30+2</text>
<text transform="translate(585.8 3884) scale(0.915 1)" font-size="43" text-anchor="middle">60+2</text>
<text transform="translate(743.9 3884) scale(0.915 1)" font-size="43" text-anchor="middle">90+2</text>
<text transform="translate(902 3884) scale(0.915 1)" font-size="43" text-anchor="middle">120+2</text>
<text transform="translate(1060.2 3884) scale(0.915 1)" font-size="43" text-anchor="middle">150+2</text>
<text transform="translate(1218.3 3884) scale(0.915 1)" font-size="43" text-anchor="middle">180+2</text>
<text transform="translate(157 3003.4) scale(0.915 1)" font-size="43" text-anchor="end">50</text>
<text transform="translate(157 3260.3) scale(0.915 1)" font-size="43" text-anchor="end">40</text>
<text transform="translate(157 3517.2) scale(0.915 1)" font-size="43" text-anchor="end">30</text>
<text transform="translate(157 3774.1) scale(0.915 1)" font-size="43" text-anchor="end">20</text>
</g>
<text transform="translate(1238.8 2810) scale(0.871 1)" font-size="53.5" font-weight="bold" text-anchor="end">2 °C</text>
<path d="M269 2943.3L427.1 3057L585.3 3099.4L743.4 3273.4L901.5 3228.7L1059.7 3391.9L1217.8 3442.5" fill="none" stroke="#000" stroke-width="4.4" stroke-linejoin="round"/>
<g stroke="#000" fill="none"><path d="M269 2919.5V2967.1" stroke-width="3.9"/><path d="M254.9 2919.5H283.1M254.9 2967.1H283.1" stroke-width="3.8" stroke-linecap="round"/><path d="M427.1 2988.5V3125.5" stroke-width="3.9"/><path d="M413 2988.5H441.2M413 3125.5H441.2" stroke-width="3.8" stroke-linecap="round"/><path d="M585.3 3071.7V3127.1" stroke-width="3.9"/><path d="M571.2 3071.7H599.4M571.2 3127.1H599.4" stroke-width="3.8" stroke-linecap="round"/><path d="M743.4 3212.2V3334.6" stroke-width="3.9"/><path d="M729.3 3212.2H757.5M729.3 3334.6H757.5" stroke-width="3.8" stroke-linecap="round"/><path d="M901.5 3168.1V3289.3" stroke-width="3.9"/><path d="M887.4 3168.1H915.6M887.4 3289.3H915.6" stroke-width="3.8" stroke-linecap="round"/><path d="M1059.7 3358.1V3425.7" stroke-width="3.9"/><path d="M1045.6 3358.1H1073.8M1045.6 3425.7H1073.8" stroke-width="3.8" stroke-linecap="round"/><path d="M1217.8 3421.6V3463.4" stroke-width="3.9"/><path d="M1203.7 3421.6H1231.9M1203.7 3463.4H1231.9" stroke-width="3.8" stroke-linecap="round"/></g>
<ellipse cx="269" cy="2943.3" rx="14.3" ry="15.4" fill="#ff0000" stroke="#000" stroke-width="4.0"/><ellipse cx="427.1" cy="3057" rx="14.3" ry="15.4" fill="#ff0000" stroke="#000" stroke-width="4.0"/><ellipse cx="585.3" cy="3099.4" rx="14.3" ry="15.4" fill="#ff0000" stroke="#000" stroke-width="4.0"/><ellipse cx="743.4" cy="3273.4" rx="14.3" ry="15.4" fill="#ff0000" stroke="#000" stroke-width="4.0"/><ellipse cx="901.5" cy="3228.7" rx="14.3" ry="15.4" fill="#ff0000" stroke="#000" stroke-width="4.0"/><ellipse cx="1059.7" cy="3391.9" rx="14.3" ry="15.4" fill="#ff0000" stroke="#000" stroke-width="4.0"/><ellipse cx="1217.8" cy="3442.5" rx="14.3" ry="15.4" fill="#ff0000" stroke="#000" stroke-width="4.0"/>
<path d="M269 3323.8L427.1 3224.8L585.3 3345.6L743.4 3320L901.5 3332L1059.7 3292L1217.8 3487" fill="none" stroke="#000" stroke-width="4.4" stroke-linejoin="round"/>
<g stroke="#000" fill="none"><path d="M269 3306.6V3341" stroke-width="3.9"/><path d="M254.9 3306.6H283.1M254.9 3341H283.1" stroke-width="3.8" stroke-linecap="round"/><path d="M427.1 3188.7V3260.9" stroke-width="3.9"/><path d="M413 3188.7H441.2M413 3260.9H441.2" stroke-width="3.8" stroke-linecap="round"/><path d="M585.3 3313.6V3377.6" stroke-width="3.9"/><path d="M571.2 3313.6H599.4M571.2 3377.6H599.4" stroke-width="3.8" stroke-linecap="round"/><path d="M743.4 3254V3386" stroke-width="3.9"/><path d="M729.3 3254H757.5M729.3 3386H757.5" stroke-width="3.8" stroke-linecap="round"/><path d="M901.5 3288V3376" stroke-width="3.9"/><path d="M887.4 3288H915.6M887.4 3376H915.6" stroke-width="3.8" stroke-linecap="round"/><path d="M1059.7 3247V3337" stroke-width="3.9"/><path d="M1045.6 3247H1073.8M1045.6 3337H1073.8" stroke-width="3.8" stroke-linecap="round"/><path d="M1217.8 3476V3498" stroke-width="3.9"/><path d="M1203.7 3476H1231.9M1203.7 3498H1231.9" stroke-width="3.8" stroke-linecap="round"/></g>
<polygon points="256,3314.8 282,3314.8 269,3338.9" fill="#00ffff" stroke="#000" stroke-width="4.0" stroke-linejoin="miter" stroke-miterlimit="10"/><polygon points="414.1,3215.8 440.1,3215.8 427.1,3239.9" fill="#00ffff" stroke="#000" stroke-width="4.0" stroke-linejoin="miter" stroke-miterlimit="10"/><polygon points="572.3,3336.6 598.3,3336.6 585.3,3360.7" fill="#00ffff" stroke="#000" stroke-width="4.0" stroke-linejoin="miter" stroke-miterlimit="10"/><polygon points="730.4,3311 756.4,3311 743.4,3335.1" fill="#00ffff" stroke="#000" stroke-width="4.0" stroke-linejoin="miter" stroke-miterlimit="10"/><polygon points="888.5,3323 914.5,3323 901.5,3347.1" fill="#00ffff" stroke="#000" stroke-width="4.0" stroke-linejoin="miter" stroke-miterlimit="10"/><polygon points="1046.7,3283 1072.7,3283 1059.7,3307.1" fill="#00ffff" stroke="#000" stroke-width="4.0" stroke-linejoin="miter" stroke-miterlimit="10"/><polygon points="1204.8,3478 1230.8,3478 1217.8,3502.1" fill="#00ffff" stroke="#000" stroke-width="4.0" stroke-linejoin="miter" stroke-miterlimit="10"/>
<path d="M269 3117.7L427.1 3397.5L585.3 3268.1L743.4 3388.5L901.5 3405.3L1059.7 3504.4L1217.8 3547.7" fill="none" stroke="#000" stroke-width="4.4" stroke-linejoin="round"/>
<g stroke="#000" fill="none"><path d="M269 3074.7V3160.7" stroke-width="3.9"/><path d="M254.9 3074.7H283.1M254.9 3160.7H283.1" stroke-width="3.8" stroke-linecap="round"/><path d="M427.1 3324.1V3470.9" stroke-width="3.9"/><path d="M413 3324.1H441.2M413 3470.9H441.2" stroke-width="3.8" stroke-linecap="round"/><path d="M585.3 3246.1V3290.1" stroke-width="3.9"/><path d="M571.2 3246.1H599.4M571.2 3290.1H599.4" stroke-width="3.8" stroke-linecap="round"/><path d="M743.4 3316.3V3460.7" stroke-width="3.9"/><path d="M729.3 3316.3H757.5M729.3 3460.7H757.5" stroke-width="3.8" stroke-linecap="round"/><path d="M901.5 3348.7V3461.9" stroke-width="3.9"/><path d="M887.4 3348.7H915.6M887.4 3461.9H915.6" stroke-width="3.8" stroke-linecap="round"/><path d="M1059.7 3469.3V3539.5" stroke-width="3.9"/><path d="M1045.6 3469.3H1073.8M1045.6 3539.5H1073.8" stroke-width="3.8" stroke-linecap="round"/><path d="M1217.8 3537.7V3557.7" stroke-width="3.9"/><path d="M1203.7 3537.7H1231.9M1203.7 3557.7H1231.9" stroke-width="3.8" stroke-linecap="round"/></g>
<rect x="256.6" y="3104.5" width="24.8" height="26.4" fill="#0000c8" stroke="#000" stroke-width="4.0" stroke-linejoin="miter"/><rect x="414.7" y="3384.3" width="24.8" height="26.4" fill="#0000c8" stroke="#000" stroke-width="4.0" stroke-linejoin="miter"/><rect x="572.9" y="3254.9" width="24.8" height="26.4" fill="#0000c8" stroke="#000" stroke-width="4.0" stroke-linejoin="miter"/><rect x="731" y="3375.3" width="24.8" height="26.4" fill="#0000c8" stroke="#000" stroke-width="4.0" stroke-linejoin="miter"/><rect x="889.1" y="3392.1" width="24.8" height="26.4" fill="#0000c8" stroke="#000" stroke-width="4.0" stroke-linejoin="miter"/><rect x="1047.2" y="3491.2" width="24.8" height="26.4" fill="#0000c8" stroke="#000" stroke-width="4.0" stroke-linejoin="miter"/><rect x="1205.4" y="3534.5" width="24.8" height="26.4" fill="#0000c8" stroke="#000" stroke-width="4.0" stroke-linejoin="miter"/>
<path d="M269 3201L427.1 3473.6L585.3 3469.3L743.4 3540.5L901.5 3556.3L1059.7 3577.8L1217.8 3682.2" fill="none" stroke="#000" stroke-width="4.4" stroke-linejoin="round"/>
<g stroke="#000" fill="none"><path d="M269 3174.2V3227.8" stroke-width="3.9"/><path d="M254.9 3174.2H283.1M254.9 3227.8H283.1" stroke-width="3.8" stroke-linecap="round"/><path d="M427.1 3405.3V3541.9" stroke-width="3.9"/><path d="M413 3405.3H441.2M413 3541.9H441.2" stroke-width="3.8" stroke-linecap="round"/><path d="M585.3 3434.2V3504.4" stroke-width="3.9"/><path d="M571.2 3434.2H599.4M571.2 3504.4H599.4" stroke-width="3.8" stroke-linecap="round"/><path d="M743.4 3506.3V3574.7" stroke-width="3.9"/><path d="M729.3 3506.3H757.5M729.3 3574.7H757.5" stroke-width="3.8" stroke-linecap="round"/><path d="M901.5 3517.3V3595.3" stroke-width="3.9"/><path d="M887.4 3517.3H915.6M887.4 3595.3H915.6" stroke-width="3.8" stroke-linecap="round"/><path d="M1059.7 3550.5V3605.1" stroke-width="3.9"/><path d="M1045.6 3550.5H1073.8M1045.6 3605.1H1073.8" stroke-width="3.8" stroke-linecap="round"/><path d="M1217.8 3636.4V3728" stroke-width="3.9"/><path d="M1203.7 3636.4H1231.9M1203.7 3728H1231.9" stroke-width="3.8" stroke-linecap="round"/></g>
<polygon points="269,3184 285,3201 269,3218 253,3201" fill="#dc00c8" stroke="#000" stroke-width="4.0" stroke-linejoin="miter"/><polygon points="427.1,3456.6 443.1,3473.6 427.1,3490.6 411.1,3473.6" fill="#dc00c8" stroke="#000" stroke-width="4.0" stroke-linejoin="miter"/><polygon points="585.3,3452.3 601.3,3469.3 585.3,3486.3 569.3,3469.3" fill="#dc00c8" stroke="#000" stroke-width="4.0" stroke-linejoin="miter"/><polygon points="743.4,3523.5 759.4,3540.5 743.4,3557.5 727.4,3540.5" fill="#dc00c8" stroke="#000" stroke-width="4.0" stroke-linejoin="miter"/><polygon points="901.5,3539.3 917.5,3556.3 901.5,3573.3 885.5,3556.3" fill="#dc00c8" stroke="#000" stroke-width="4.0" stroke-linejoin="miter"/><polygon points="1059.7,3560.8 1075.7,3577.8 1059.7,3594.8 1043.7,3577.8" fill="#dc00c8" stroke="#000" stroke-width="4.0" stroke-linejoin="miter"/><polygon points="1217.8,3665.2 1233.8,3682.2 1217.8,3699.2 1201.8,3682.2" fill="#dc00c8" stroke="#000" stroke-width="4.0" stroke-linejoin="miter"/>
<path d="M718.7 2835.6H809.3" stroke="#000" stroke-width="4.4" stroke-linecap="round"/>
<ellipse cx="764.4" cy="2835.6" rx="14.3" ry="15.4" fill="#ff0000" stroke="#000" stroke-width="4.0"/>
<text transform="translate(831.2 2849.8) scale(0.896 1)" font-size="43.3" text-anchor="start">Moro</text>
<path d="M718.7 2890.2H809.3" stroke="#000" stroke-width="4.4" stroke-linecap="round"/>
<polygon points="751.4,2881.2 777.4,2881.2 764.4,2905.3" fill="#00ffff" stroke="#000" stroke-width="4.0" stroke-linejoin="miter" stroke-miterlimit="10"/>
<text transform="translate(831.2 2904.4) scale(0.896 1)" font-size="43.3" text-anchor="start">Tarocco</text>
<path d="M718.7 2943.7H809.3" stroke="#000" stroke-width="4.4" stroke-linecap="round"/>
<rect x="752" y="2930.5" width="24.8" height="26.4" fill="#0000c8" stroke="#000" stroke-width="4.0" stroke-linejoin="miter"/>
<text transform="translate(831.2 2957.9) scale(0.896 1)" font-size="43.3" text-anchor="start">Sanguinello</text>
<path d="M718.7 2998.3H809.3" stroke="#000" stroke-width="4.4" stroke-linecap="round"/>
<polygon points="764.4,2981.3 780.4,2998.3 764.4,3015.3 748.4,2998.3" fill="#dc00c8" stroke="#000" stroke-width="4.0" stroke-linejoin="miter"/>
<text transform="translate(831.2 3012.5) scale(0.896 1)" font-size="43.3" text-anchor="start">Sanguine</text>
<g stroke="#000" fill="none">
<path d="M1287 2733.7V3808.5M2387 2733.7V3808.5" stroke-width="3.8"/>
<path d="M1285.1 2733.7H2388.9M1285.1 3808.5H2388.9" stroke-width="4.0"/>
<path d="M1364.9 3808.5V3824.5M1522.1 3808.5V3824.5M1679.3 3808.5V3824.5M1836.4 3808.5V3824.5M1993.6 3808.5V3824.5M2150.8 3808.5V3824.5M2308 3808.5V3824.5" stroke-width="3.8"/>
<path d="M2387 2988.4H2402.5M2387 3245.2H2402.5M2387 3502H2402.5M2387 3759.3H2402.5" stroke-width="4.0"/>
</g>
<g font-size="42.5">
<text transform="translate(1365.4 3882.5) scale(0.915 1)" font-size="43" text-anchor="middle">0+2</text>
<text transform="translate(1522.6 3882.5) scale(0.915 1)" font-size="43" text-anchor="middle">30+2</text>
<text transform="translate(1679.8 3882.5) scale(0.915 1)" font-size="43" text-anchor="middle">60+2</text>
<text transform="translate(1836.9 3882.5) scale(0.915 1)" font-size="43" text-anchor="middle">90+2</text>
<text transform="translate(1994.1 3882.5) scale(0.915 1)" font-size="43" text-anchor="middle">120+2</text>
<text transform="translate(2151.3 3882.5) scale(0.915 1)" font-size="43" text-anchor="middle">150+2</text>
<text transform="translate(2308.5 3882.5) scale(0.915 1)" font-size="43" text-anchor="middle">180+2</text>
<text transform="translate(2420.5 3002.9) scale(0.915 1)" font-size="43" text-anchor="start">50</text>
<text transform="translate(2420.5 3259.7) scale(0.915 1)" font-size="43" text-anchor="start">40</text>
<text transform="translate(2420.5 3516.5) scale(0.915 1)" font-size="43" text-anchor="start">30</text>
<text transform="translate(2420.5 3773.8) scale(0.915 1)" font-size="43" text-anchor="start">20</text>
</g>
<text transform="translate(2341.5 2808.6) scale(0.871 1)" font-size="53.5" font-weight="bold" text-anchor="end">5 °C</text>
<path d="M1364.9 2988.7L1522.1 3156.9L1679.3 3246.2L1836.4 3173L1993.6 3176.2L2150.8 3341.3L2308 3398.6" fill="none" stroke="#000" stroke-width="4.4" stroke-linejoin="round"/>
<g stroke="#000" fill="none"><path d="M1364.9 2957.7V3019.7" stroke-width="3.9"/><path d="M1350.8 2957.7H1379M1350.8 3019.7H1379" stroke-width="3.8" stroke-linecap="round"/><path d="M1522.1 3100.9V3212.9" stroke-width="3.9"/><path d="M1508 3100.9H1536.2M1508 3212.9H1536.2" stroke-width="3.8" stroke-linecap="round"/><path d="M1679.3 3236.2V3256.2" stroke-width="3.9"/><path d="M1665.2 3236.2H1693.4M1665.2 3256.2H1693.4" stroke-width="3.8" stroke-linecap="round"/><path d="M1836.4 3123.3V3222.7" stroke-width="3.9"/><path d="M1822.3 3123.3H1850.5M1822.3 3222.7H1850.5" stroke-width="3.8" stroke-linecap="round"/><path d="M1993.6 3121.6V3230.8" stroke-width="3.9"/><path d="M1979.5 3121.6H2007.7M1979.5 3230.8H2007.7" stroke-width="3.8" stroke-linecap="round"/><path d="M2150.8 3274.6V3408" stroke-width="3.9"/><path d="M2136.7 3274.6H2164.9M2136.7 3408H2164.9" stroke-width="3.8" stroke-linecap="round"/><path d="M2308 3369.8V3427.4" stroke-width="3.9"/><path d="M2293.9 3369.8H2322.1M2293.9 3427.4H2322.1" stroke-width="3.8" stroke-linecap="round"/></g>
<ellipse cx="1364.9" cy="2988.7" rx="14.3" ry="15.4" fill="#ff0000" stroke="#000" stroke-width="4.0"/><ellipse cx="1522.1" cy="3156.9" rx="14.3" ry="15.4" fill="#ff0000" stroke="#000" stroke-width="4.0"/><ellipse cx="1679.3" cy="3246.2" rx="14.3" ry="15.4" fill="#ff0000" stroke="#000" stroke-width="4.0"/><ellipse cx="1836.4" cy="3173" rx="14.3" ry="15.4" fill="#ff0000" stroke="#000" stroke-width="4.0"/><ellipse cx="1993.6" cy="3176.2" rx="14.3" ry="15.4" fill="#ff0000" stroke="#000" stroke-width="4.0"/><ellipse cx="2150.8" cy="3341.3" rx="14.3" ry="15.4" fill="#ff0000" stroke="#000" stroke-width="4.0"/><ellipse cx="2308" cy="3398.6" rx="14.3" ry="15.4" fill="#ff0000" stroke="#000" stroke-width="4.0"/>
<path d="M1364.9 3343L1522.1 3218L1679.3 3182.4L1836.4 3357L1993.6 3489.4L2150.8 3510L2308 3652" fill="none" stroke="#000" stroke-width="4.4" stroke-linejoin="round"/>
<g stroke="#000" fill="none"><path d="M1364.9 3276V3410" stroke-width="3.9"/><path d="M1350.8 3276H1379M1350.8 3410H1379" stroke-width="3.8" stroke-linecap="round"/><path d="M1522.1 3117V3319" stroke-width="3.9"/><path d="M1508 3117H1536.2M1508 3319H1536.2" stroke-width="3.8" stroke-linecap="round"/><path d="M1679.3 3081.4V3283.4" stroke-width="3.9"/><path d="M1665.2 3081.4H1693.4M1665.2 3283.4H1693.4" stroke-width="3.8" stroke-linecap="round"/><path d="M1836.4 3240V3474" stroke-width="3.9"/><path d="M1822.3 3240H1850.5M1822.3 3474H1850.5" stroke-width="3.8" stroke-linecap="round"/><path d="M1993.6 3471.4V3507.4" stroke-width="3.9"/><path d="M1979.5 3471.4H2007.7M1979.5 3507.4H2007.7" stroke-width="3.8" stroke-linecap="round"/><path d="M2150.8 3502V3518" stroke-width="3.9"/><path d="M2136.7 3502H2164.9M2136.7 3518H2164.9" stroke-width="3.8" stroke-linecap="round"/><path d="M2308 3622.7V3681.3" stroke-width="3.9"/><path d="M2293.9 3622.7H2322.1M2293.9 3681.3H2322.1" stroke-width="3.8" stroke-linecap="round"/></g>
<polygon points="1351.9,3334 1377.9,3334 1364.9,3358.1" fill="#00ffff" stroke="#000" stroke-width="4.0" stroke-linejoin="miter" stroke-miterlimit="10"/><polygon points="1509.1,3209 1535.1,3209 1522.1,3233.1" fill="#00ffff" stroke="#000" stroke-width="4.0" stroke-linejoin="miter" stroke-miterlimit="10"/><polygon points="1666.3,3173.4 1692.3,3173.4 1679.3,3197.5" fill="#00ffff" stroke="#000" stroke-width="4.0" stroke-linejoin="miter" stroke-miterlimit="10"/><polygon points="1823.4,3348 1849.4,3348 1836.4,3372.1" fill="#00ffff" stroke="#000" stroke-width="4.0" stroke-linejoin="miter" stroke-miterlimit="10"/><polygon points="1980.6,3480.4 2006.6,3480.4 1993.6,3504.5" fill="#00ffff" stroke="#000" stroke-width="4.0" stroke-linejoin="miter" stroke-miterlimit="10"/><polygon points="2137.8,3501 2163.8,3501 2150.8,3525.1" fill="#00ffff" stroke="#000" stroke-width="4.0" stroke-linejoin="miter" stroke-miterlimit="10"/><polygon points="2295,3643 2321,3643 2308,3667.1" fill="#00ffff" stroke="#000" stroke-width="4.0" stroke-linejoin="miter" stroke-miterlimit="10"/>
<path d="M1364.9 3160.9L1522.1 3293L1679.3 3292.8L1836.4 3390.5L1993.6 3362.7L2150.8 3531L2308 3564.5" fill="none" stroke="#000" stroke-width="4.4" stroke-linejoin="round"/>
<g stroke="#000" fill="none"><path d="M1364.9 3128.7V3193.1" stroke-width="3.9"/><path d="M1350.8 3128.7H1379M1350.8 3193.1H1379" stroke-width="3.8" stroke-linecap="round"/><path d="M1522.1 3279V3307" stroke-width="3.9"/><path d="M1508 3279H1536.2M1508 3307H1536.2" stroke-width="3.8" stroke-linecap="round"/><path d="M1679.3 3264.8V3320.8" stroke-width="3.9"/><path d="M1665.2 3264.8H1693.4M1665.2 3320.8H1693.4" stroke-width="3.8" stroke-linecap="round"/><path d="M1836.4 3362.5V3418.5" stroke-width="3.9"/><path d="M1822.3 3362.5H1850.5M1822.3 3418.5H1850.5" stroke-width="3.8" stroke-linecap="round"/><path d="M1993.6 3333V3392.4" stroke-width="3.9"/><path d="M1979.5 3333H2007.7M1979.5 3392.4H2007.7" stroke-width="3.8" stroke-linecap="round"/><path d="M2150.8 3506V3556" stroke-width="3.9"/><path d="M2136.7 3506H2164.9M2136.7 3556H2164.9" stroke-width="3.8" stroke-linecap="round"/><path d="M2308 3534.9V3594.1" stroke-width="3.9"/><path d="M2293.9 3534.9H2322.1M2293.9 3594.1H2322.1" stroke-width="3.8" stroke-linecap="round"/></g>
<rect x="1352.5" y="3147.7" width="24.8" height="26.4" fill="#0000c8" stroke="#000" stroke-width="4.0" stroke-linejoin="miter"/><rect x="1509.7" y="3279.8" width="24.8" height="26.4" fill="#0000c8" stroke="#000" stroke-width="4.0" stroke-linejoin="miter"/><rect x="1666.9" y="3279.6" width="24.8" height="26.4" fill="#0000c8" stroke="#000" stroke-width="4.0" stroke-linejoin="miter"/><rect x="1824" y="3377.3" width="24.8" height="26.4" fill="#0000c8" stroke="#000" stroke-width="4.0" stroke-linejoin="miter"/><rect x="1981.2" y="3349.5" width="24.8" height="26.4" fill="#0000c8" stroke="#000" stroke-width="4.0" stroke-linejoin="miter"/><rect x="2138.4" y="3517.8" width="24.8" height="26.4" fill="#0000c8" stroke="#000" stroke-width="4.0" stroke-linejoin="miter"/><rect x="2295.6" y="3551.3" width="24.8" height="26.4" fill="#0000c8" stroke="#000" stroke-width="4.0" stroke-linejoin="miter"/>
<path d="M1364.9 3214.5L1522.1 3349.5L1679.3 3378.5L1836.4 3468.5L1993.6 3538.8L2150.8 3593.4L2308 3749" fill="none" stroke="#000" stroke-width="4.4" stroke-linejoin="round"/>
<g stroke="#000" fill="none"><path d="M1364.9 3179.8V3249.2" stroke-width="3.9"/><path d="M1350.8 3179.8H1379M1350.8 3249.2H1379" stroke-width="3.8" stroke-linecap="round"/><path d="M1522.1 3301.5V3397.5" stroke-width="3.9"/><path d="M1508 3301.5H1536.2M1508 3397.5H1536.2" stroke-width="3.8" stroke-linecap="round"/><path d="M1679.3 3329.8V3427.2" stroke-width="3.9"/><path d="M1665.2 3329.8H1693.4M1665.2 3427.2H1693.4" stroke-width="3.8" stroke-linecap="round"/><path d="M1836.4 3422.5V3514.5" stroke-width="3.9"/><path d="M1822.3 3422.5H1850.5M1822.3 3514.5H1850.5" stroke-width="3.8" stroke-linecap="round"/><path d="M1993.6 3486.8V3590.8" stroke-width="3.9"/><path d="M1979.5 3486.8H2007.7M1979.5 3590.8H2007.7" stroke-width="3.8" stroke-linecap="round"/><path d="M2150.8 3552.4V3634.4" stroke-width="3.9"/><path d="M2136.7 3552.4H2164.9M2136.7 3634.4H2164.9" stroke-width="3.8" stroke-linecap="round"/><path d="M2308 3722V3776" stroke-width="3.9"/><path d="M2293.9 3722H2322.1M2293.9 3776H2322.1" stroke-width="3.8" stroke-linecap="round"/></g>
<polygon points="1364.9,3197.5 1380.9,3214.5 1364.9,3231.5 1348.9,3214.5" fill="#dc00c8" stroke="#000" stroke-width="4.0" stroke-linejoin="miter"/><polygon points="1522.1,3332.5 1538.1,3349.5 1522.1,3366.5 1506.1,3349.5" fill="#dc00c8" stroke="#000" stroke-width="4.0" stroke-linejoin="miter"/><polygon points="1679.3,3361.5 1695.3,3378.5 1679.3,3395.5 1663.3,3378.5" fill="#dc00c8" stroke="#000" stroke-width="4.0" stroke-linejoin="miter"/><polygon points="1836.4,3451.5 1852.4,3468.5 1836.4,3485.5 1820.4,3468.5" fill="#dc00c8" stroke="#000" stroke-width="4.0" stroke-linejoin="miter"/><polygon points="1993.6,3521.8 2009.6,3538.8 1993.6,3555.8 1977.6,3538.8" fill="#dc00c8" stroke="#000" stroke-width="4.0" stroke-linejoin="miter"/><polygon points="2150.8,3576.4 2166.8,3593.4 2150.8,3610.4 2134.8,3593.4" fill="#dc00c8" stroke="#000" stroke-width="4.0" stroke-linejoin="miter"/><polygon points="2308,3732 2324,3749 2308,3766 2292,3749" fill="#dc00c8" stroke="#000" stroke-width="4.0" stroke-linejoin="miter"/>
<text transform="translate(62.5 793.1) rotate(-90)" font-size="51" textLength="467" lengthAdjust="spacingAndGlyphs">Citric acid (g 100 g<tspan font-size="34.7" dy="-26.5">-1</tspan><tspan dy="26.5">)</tspan></text>
<text transform="translate(70 2175.9) rotate(-90)" font-size="51" textLength="513.7" lengthAdjust="spacingAndGlyphs">Malic acid (mg 100 g<tspan font-size="34.7" dy="-26.5">-1</tspan><tspan dy="26.5">)</tspan></text>
<text transform="translate(75.5 3569.1) rotate(-90)" font-size="51" textLength="590.5" lengthAdjust="spacingAndGlyphs">Succinic acid (mg 100 g<tspan font-size="34.7" dy="-26.5">-1</tspan><tspan dy="26.5">)</tspan></text>
<text x="905.5" y="1272.9" font-size="51.5" textLength="698" lengthAdjust="spacingAndGlyphs">Days of storage + 2 days at 20 °C</text>
<text x="907" y="2632" font-size="51.5" textLength="700" lengthAdjust="spacingAndGlyphs">Days of storage + 2 days at 20 °C</text>
<text x="909.5" y="3991.4" font-size="51.5" textLength="700" lengthAdjust="spacingAndGlyphs">Days of storage + 2 days at 20 °C</text>
</svg>
</body></html>
